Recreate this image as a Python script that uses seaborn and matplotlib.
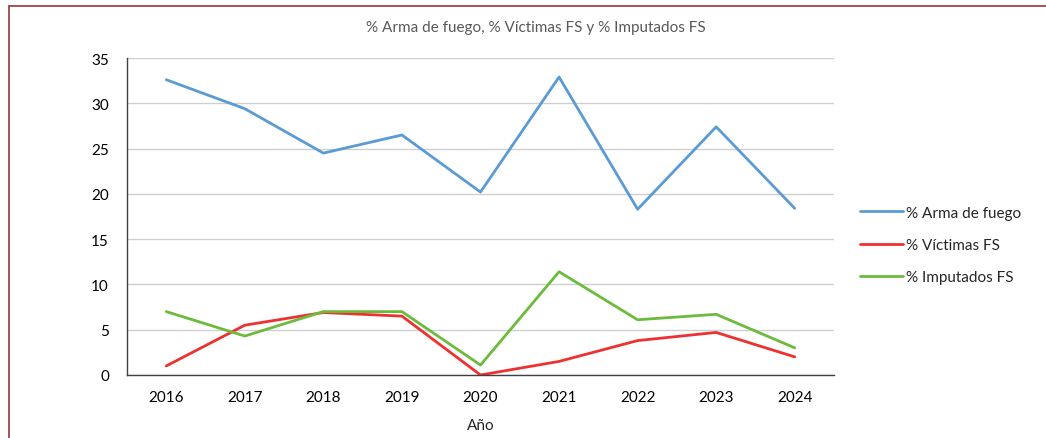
import pandas as pd
import matplotlib.pyplot as plt
import seaborn as sns
from matplotlib.lines import Line2D

# Datos
anios = [2016, 2017, 2018, 2019, 2020, 2021, 2022, 2023, 2024]
arma_fuego = [32.6, 29.4, 24.5, 26.5, 20.2, 32.9, 18.3, 27.4, 18.4]
victimas_fs = [1.0, 5.5, 6.9, 6.5, 0.0, 1.5, 3.8, 4.7, 2.0]
imputados_fs = [7.0, 4.3, 7.0, 7.0, 1.1, 11.4, 6.1, 6.7, 3.0]

series = ['% Arma de fuego', '% Víctimas FS', '% Imputados FS']
colores = ['#5B9BD5', '#EE3130', '#6CBB3C']

df = pd.DataFrame({
    'Año': anios * 3,
    'valor': arma_fuego + victimas_fs + imputados_fs,
    'serie': [series[0]] * 9 + [series[1]] * 9 + [series[2]] * 9,
})
df['pos'] = df['Año'].map({a: i for i, a in enumerate(anios)})

sns.set_theme(style='white')
plt.rcParams['font.family'] = ['Lato', 'DejaVu Sans']

fig = plt.figure(figsize=(10.46, 4.39), dpi=100)
ax = fig.add_axes([127 / 1046, 1 - 376 / 439, (834 - 127) / 1046, (376 - 59) / 439])

sns.lineplot(data=df, x='pos', y='valor', hue='serie', hue_order=series,
             palette=colores, linewidth=2.0, ax=ax, legend=False)

ax.set_xlim(-0.5, len(anios) - 0.5)
ax.set_ylim(0, 35)
ax.set_yticks(range(0, 36, 5))
ax.set_xticks(range(len(anios)))
ax.set_xticklabels([str(a) for a in anios])
ax.tick_params(axis='both', length=0, labelsize=11, colors='#000000')
ax.tick_params(axis='x', pad=11)
ax.tick_params(axis='y', pad=13)
ax.grid(axis='y', color='#D0D0D0', linewidth=1.0)
ax.set_axisbelow(True)
for s in ['top', 'right']:
    ax.spines[s].set_visible(False)
for s in ['left', 'bottom']:
    ax.spines[s].set_color('#404040')
    ax.spines[s].set_linewidth(1.0)
ax.set_xlabel('Año', fontsize=11, labelpad=10)
ax.set_ylabel('')

fig.text(536 / 1046, 1 - 28 / 439, '% Arma de fuego, % Víctimas FS y % Imputados FS',
         ha='center', va='center', fontsize=11, color='#595959')

handles = [Line2D([], [], color=c, linewidth=2.0) for c in colores]
fig.legend(handles, series, loc='center left', bbox_to_anchor=(846 / 1046, 1 - 246 / 439),
           frameon=False, fontsize=11, handlelength=2.8, handletextpad=0.25,
           labelspacing=1.2)

# marco del recorte (borde superior e izquierdo)
fig.add_artist(Line2D([9 / 1046, 9 / 1046], [0, 1 - 6.5 / 439], color='#A0434A', linewidth=1.3,
                      transform=fig.transFigure))
fig.add_artist(Line2D([9 / 1046, 1], [1 - 6.5 / 439, 1 - 6.5 / 439], color='#A0434A', linewidth=1.3,
                      transform=fig.transFigure))

plt.savefig('out.png', dpi=100)
plt.close()
